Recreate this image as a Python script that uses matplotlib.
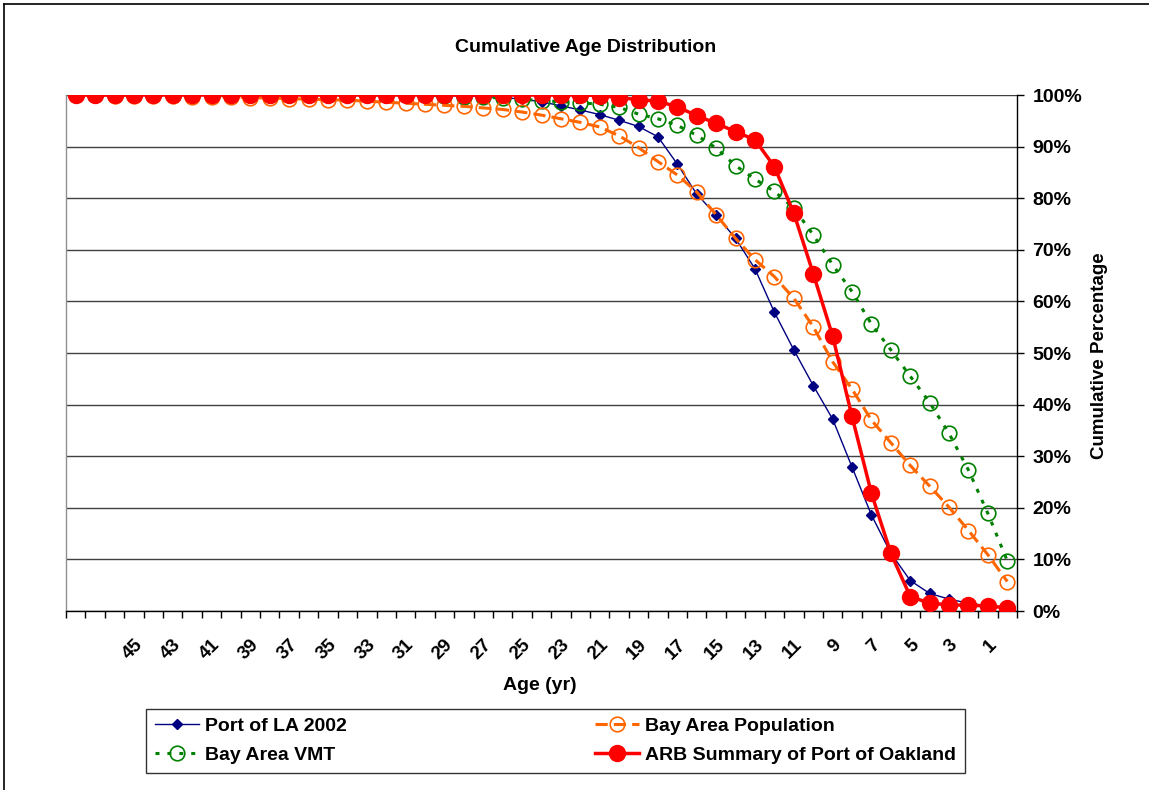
import matplotlib
matplotlib.use('Agg')
import matplotlib.pyplot as plt
import numpy as np
import matplotlib.transforms as mtransforms
from matplotlib.lines import Line2D
from matplotlib.ticker import FixedLocator, FuncFormatter

# ---------------- data ----------------
ages = list(range(49, 0, -1))  # categories shown left to right: 49 ... 1
tick_labels = ['', '', '', '', '45', '', '43', '', '41', '', '39', '', '37', '', '35', '',
               '33', '', '31', '', '29', '', '27', '', '25', '', '23', '', '21', '', '19', '',
               '17', '', '15', '', '13', '', '11', '', '9', '', '7', '', '5', '', '3', '', '1']

port_la = [100, 100, 100, 100, 100, 100, 100, 100, 100, 100,
           100, 100, 100, 100, 100, 100, 100, 100, 100,
           99.9, 99.8, 99.7, 99.5, 99.2, 98.7, 97.9, 97.1, 96.2, 95.1,
           93.9, 91.9, 86.6, 80.8, 76.7, 72.2, 66.3, 57.9, 50.6, 43.7,
           37.2, 27.9, 18.6, 11.2, 5.9, 3.4, 2.3, 1.5, 1.0, 0.4]

bay_pop = [100.0, 100.0, 99.9, 99.9, 99.8, 99.8, 99.7, 99.7, 99.6, 99.5,
           99.4, 99.3, 99.2, 99.1, 99.0, 98.8, 98.6, 98.4, 98.2, 98.0,
           97.8, 97.5, 97.2, 96.7, 96.1, 95.4, 94.7, 93.8, 92.1, 89.8,
           87.1, 84.5, 81.2, 76.8, 72.2, 68.1, 64.8, 60.6, 55.1, 48.3,
           43.0, 37.0, 32.6, 28.2, 24.2, 20.1, 15.6, 10.9, 5.7]

bay_vmt = [100, 100, 100, 100, 100, 100, 100, 100, 100, 100,
           100, 100, 100, 100, 100, 100, 100, 100, 100,
           99.8, 99.7, 99.6, 99.4, 99.2, 98.9, 98.7, 98.5, 98.2, 97.6,
           96.3, 95.4, 94.1, 92.2, 89.7, 86.3, 83.7, 81.3, 78.1, 72.9,
           67.1, 61.9, 55.6, 50.6, 45.5, 40.4, 34.4, 27.3, 18.9, 9.7]

arb_oakland = [100, 100, 100, 100, 100, 100, 100, 100, 100, 100,
               100, 100, 100, 100, 100, 100, 100, 100, 100, 100,
               100, 100, 100, 100, 100, 100, 100,
               99.9, 99.5, 99.1, 98.8, 97.7, 96.0, 94.5, 92.9, 91.3, 86.1,
               77.1, 65.4, 53.3, 37.7, 22.8, 11.2, 2.8, 1.5, 1.2, 1.1,
               1.0, 0.6]

series_names = ['Port of LA 2002', 'Bay Area Population', 'Bay Area VMT',
                'ARB Summary of Port of Oakland']
y_ticks = [0, 10, 20, 30, 40, 50, 60, 70, 80, 90, 100]

# ---------------- figure ----------------
plt.rcParams['font.family'] = ['Liberation Sans', 'DejaVu Sans']
plt.rcParams['font.weight'] = 'bold'

W, H = 1149, 790
fig = plt.figure(figsize=(W / 100, H / 100), dpi=100)
fig.patch.set_facecolor('white')

ax = fig.add_axes([66 / W, 1 - 611 / H, 951 / W, 516 / H])
x = np.arange(len(ages))

h_la, = ax.plot(x, port_la, color='#000080', lw=1.0, marker='D', ms=5,
                mfc='#000080', mec='#000080', zorder=3)
h_vmt, = ax.plot(x, bay_vmt, color='#008000', lw=2.2, ls=(0, (1.3, 2.6)),
                 marker='o', ms=10.5, mfc='none', mec='#008000', mew=1.2, zorder=3)
h_pop, = ax.plot(x, bay_pop, color='#FF6600', lw=2.2, ls=(0, (4, 2)),
                 marker='o', ms=10.5, mfc='none', mec='#FF6600', mew=1.2, zorder=4)
h_arb, = ax.plot(x, arb_oakland, color='#FF0000', lw=2.5, marker='o', ms=11.5,
                 mfc='#FF0000', mec='#FF0000', zorder=5)

ax.set_xlim(-0.5, len(ages) - 0.5)
ax.set_ylim(0, 100)

# y axis on right
ax.yaxis.tick_right()
ax.set_yticks(y_ticks)
ax.yaxis.set_major_formatter(FuncFormatter(lambda v, p: f'{v:.0f}%'))
ax.tick_params(axis='y', which='major', direction='out', length=5, width=1,
               pad=6, labelsize=14, colors='black')
ax.grid(axis='y', color='#404040', lw=1)
ax.set_axisbelow(True)

# x axis: ticks at category boundaries, labels at centres
ax.set_xticks(x)
ax.set_xticklabels(tick_labels, rotation=45, ha='right', va='top', fontsize=13.5,
                   fontweight='bold')
ax.xaxis.set_minor_locator(FixedLocator(np.arange(-0.5, len(ages), 1.0)))
ax.tick_params(axis='x', which='major', length=0, pad=18)
ax.tick_params(axis='x', which='minor', direction='out', length=5, width=1)
off = mtransforms.ScaledTranslation(-0.075, 0, fig.dpi_scale_trans)
for lab in ax.get_xticklabels():
    lab.set_transform(lab.get_transform() + off)

ax.spines['top'].set_visible(False)
ax.spines['left'].set_color('#909090')
ax.spines['right'].set_color('black')
ax.spines['bottom'].set_color('black')
for s in ('left', 'right', 'bottom'):
    ax.spines[s].set_linewidth(1)

# texts
fig.text(586 / W, 1 - 47 / H, 'Cumulative Age Distribution', ha='center', va='center',
         fontsize=14, fontweight='bold')
fig.text(540 / W, 1 - 685 / H, 'Age (yr)', ha='center', va='center',
         fontsize=14, fontweight='bold')
fig.text(1100 / W, 1 - 356 / H, 'Cumulative Percentage', ha='center', va='center',
         rotation=90, fontsize=13.5, fontweight='bold')

# legend
leg = fig.legend([h_la, h_vmt, h_pop, h_arb],
                 [series_names[0], series_names[2], series_names[1], series_names[3]],
                 loc='lower left', bbox_to_anchor=(146 / W, 1 - 773 / H, 819 / W, 65 / H),
                 mode='expand', ncol=2, frameon=True, fancybox=False, fontsize=14,
                 handlelength=2.3, handletextpad=0.3, borderaxespad=0, labelspacing=0.6,
                 borderpad=0.45)
leg.get_frame().set_edgecolor('black')
leg.get_frame().set_linewidth(1)
for t in leg.get_texts():
    t.set_fontweight('bold')

# outer chart border (left and top)
fig.add_artist(Line2D([4 / W, 4 / W], [0, 1 - 4 / H], color='black', lw=1.2,
                      transform=fig.transFigure))
fig.add_artist(Line2D([4 / W, 1], [1 - 4 / H, 1 - 4 / H], color='black', lw=1.2,
                      transform=fig.transFigure))

fig.savefig('out.png', dpi=100)
